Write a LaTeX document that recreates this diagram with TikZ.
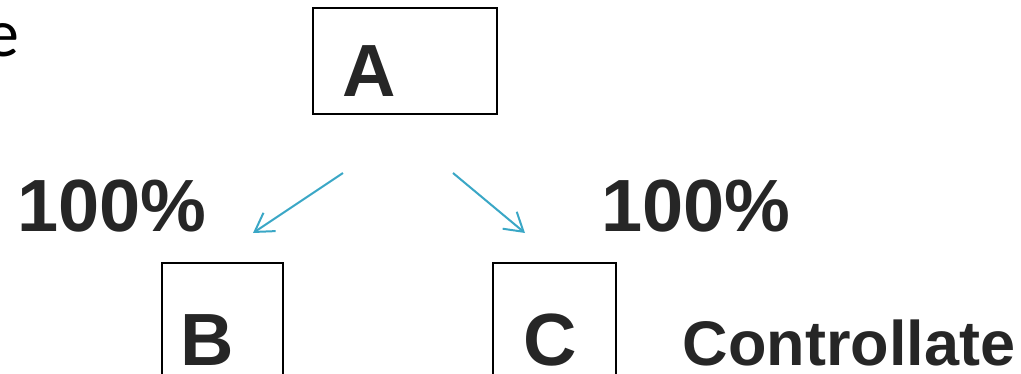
\documentclass[tikz,border=0pt]{standalone}
\usepackage{fontspec}
\setmainfont{Liberation Sans}
\newfontfamily\calib{Carlito}
\usetikzlibrary{arrows.meta}
\definecolor{ink}{HTML}{262626}
\definecolor{teal}{HTML}{3AA7C6}
\tikzset{
  boxstyle/.style={draw=black, line width=1.7pt, inner sep=0pt},
  bigletter/.style={font=\fontsize{74}{80}\selectfont\bfseries, text=ink, inner sep=0pt, anchor=base},
  pct/.style={font=\fontsize{74}{80}\selectfont\bfseries, text=ink, inner sep=0pt, anchor=base},
  arr/.style={draw=teal, line width=2pt, -{Straight Barb[length=18pt,width=22pt,line width=2pt]}}
}
\begin{document}
\begin{tikzpicture}[x=1pt,y=-1pt]
\useasboundingbox (0,0) rectangle (1021,373);
\clip (0,0) rectangle (1021,373);
% partial word at left
\node[font=\calib\fontsize{68}{72}\selectfont, text=black, inner sep=0pt, anchor=base east] (ew) at (20,56) {e};
% boxes
\node[boxstyle, minimum width=184pt, minimum height=106pt] (boxA) at (405,61) {};
\node[boxstyle, minimum width=121pt, minimum height=140pt] (boxB) at (222.5,333) {};
\node[boxstyle, minimum width=123pt, minimum height=140pt] (boxC) at (554.5,333) {};
% letters
\node[bigletter] (A) at (369,96) {A};
\node[bigletter] (B) at (207,365) {B};
\node[bigletter] (C) at (550,365) {C};
% percentages
\node[pct] (p1) at (112,231) {100\%};
\node[pct] (p2) at (696,231) {100\%};
% label
\node[font=\fontsize{63}{68}\selectfont\bfseries, text=ink, inner sep=0pt, anchor=base] (ctrl) at (849,365) {Controllate};
% arrows
\coordinate (a1s) at (343,173);
\coordinate (a1e) at (253,233);
\coordinate (a2s) at (453,173);
\coordinate (a2e) at (525,233);
\draw[arr] (a1s) -- (a1e);
\draw[arr] (a2s) -- (a2e);
\end{tikzpicture}
\end{document}
